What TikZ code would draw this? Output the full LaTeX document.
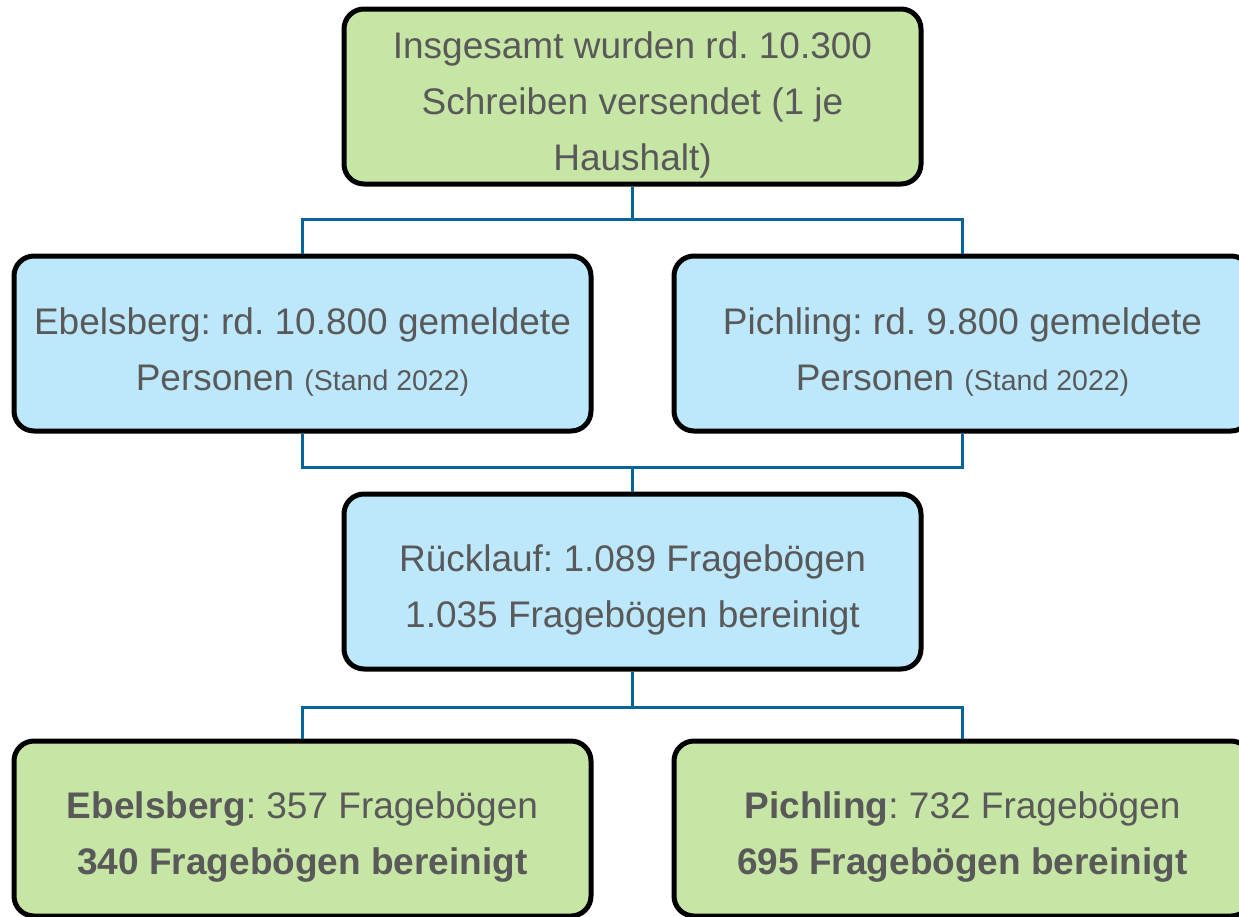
\documentclass[tikz,border=0pt]{standalone}
\usepackage{fontspec}
\setmainfont{Liberation Sans}
\usetikzlibrary{calc}
\definecolor{boxgreen}{RGB}{199,230,166}
\definecolor{boxblue}{RGB}{189,232,252}
\definecolor{txtgray}{RGB}{89,89,89}
\definecolor{conn}{RGB}{6,101,152}
\tikzset{
  card/.style={draw=black, line width=5pt, rounded corners=20pt,
    minimum width=577pt, minimum height=175pt, align=center,
    text=txtgray, font=\fontsize{37}{56}\selectfont\frenchspacing, inner sep=0pt},
  gcard/.style={card, fill=boxgreen},
  bcard/.style={card, fill=boxblue},
  link/.style={draw=conn, line width=3pt}
}
\newcommand{\stnd}{{\fontsize{28.5}{30}\selectfont(Stand 2022)}}
\newcommand{\tp}{\rule{0pt}{44pt}}
\begin{document}
\begin{tikzpicture}[x=1pt,y=-1pt]
\useasboundingbox (0,0) rectangle (1239,916);
\node[gcard] (top) at (632.5,96.5) {\tp Insgesamt wurden rd. 10.300\\Schreiben versendet (1 je\\Haushalt)};
\node[bcard] (left) at (302.5,343.5) {\tp Ebelsberg: rd. 10.800 gemeldete\\Personen \stnd};
\node[bcard] (right) at (962.5,343.5) {\tp Pichling: rd. 9.800 gemeldete\\Personen \stnd};
\node[bcard] (mid) at (632.5,581.5) {\tp Rücklauf: 1.089 Fragebögen\\1.035 Fragebögen bereinigt};
\node[gcard] (bl) at (302.5,828.5) {\tp\textbf{Ebelsberg}: 357 Fragebögen\\\textbf{340 Fragebögen bereinigt}};
\node[gcard] (br) at (962.5,828.5) {\tp\textbf{Pichling}: 732 Fragebögen\\\textbf{695 Fragebögen bereinigt}};
\draw[link] (top.south) -- ++(0,33) coordinate (j1);
\draw[link] (left.north) |- (j1) -| (right.north);
\draw[link] (left.south) -- ++(0,34) coordinate (j2) -| (right.south);
\draw[link] (mid.north) -- (mid.north |- j2);
\draw[link] (mid.south) -- ++(0,36) coordinate (j3);
\draw[link] (bl.north) |- (j3) -| (br.north);
\end{tikzpicture}
\end{document}
